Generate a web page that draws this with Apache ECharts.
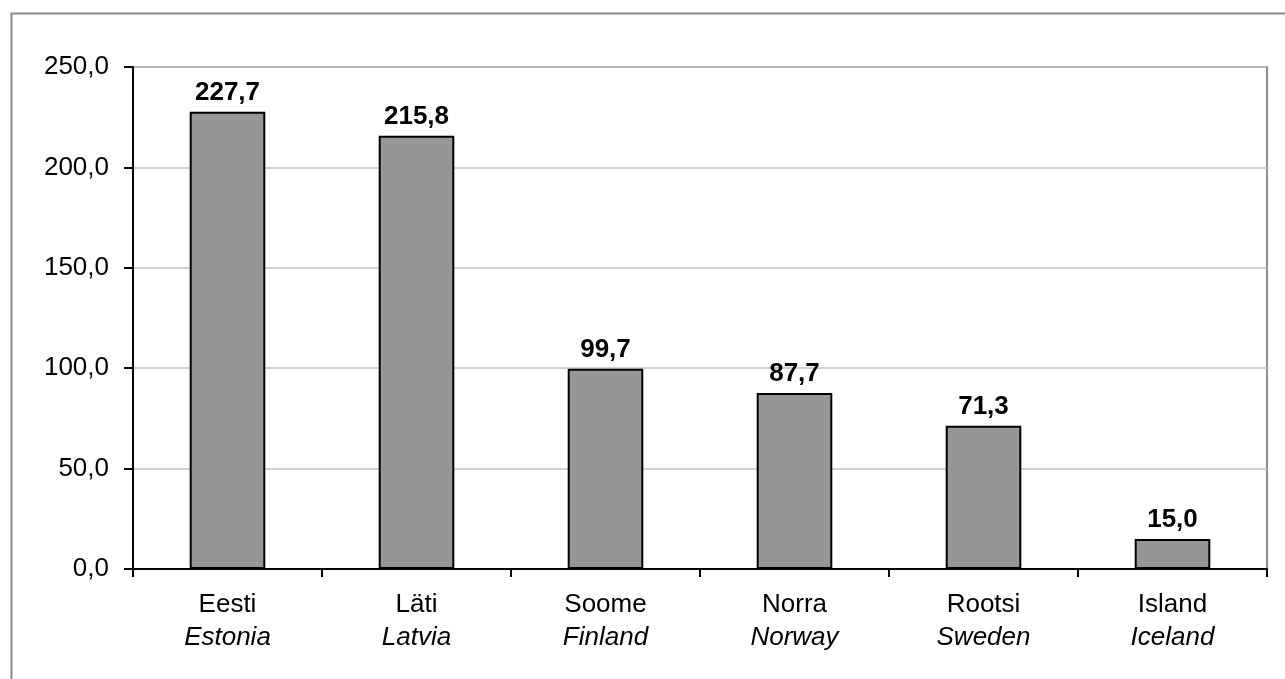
<!DOCTYPE html>
<html>
<head>
<meta charset="utf-8">
<script src="https://cdn.jsdelivr.net/npm/echarts@6/dist/echarts.min.js"></script>
<style>
  html, body { margin: 0; padding: 0; background: #fff; }
  #chart { width: 1285px; height: 679px; }
</style>
</head>
<body>
<div id="chart"></div>
<script>
// Country names: Estonian on the first line, English (italic) on the second
const namesEt = ['Eesti', 'Läti', 'Soome', 'Norra', 'Rootsi', 'Island'];
const namesEn = ['Estonia', 'Latvia', 'Finland', 'Norway', 'Sweden', 'Iceland'];
const values = [227.7, 215.8, 99.7, 87.7, 71.3, 15.0];
const yMin = 0, yMax = 250, yStep = 50;

const FONT = '"Liberation Sans", Arial, Helvetica, sans-serif';
const fmt = v => Number(v).toFixed(1).replace('.', ',');

const chart = echarts.init(document.getElementById('chart'), null, { renderer: 'canvas' });

chart.setOption({
  animation: false,
  backgroundColor: '#ffffff',
  graphic: [{
    type: 'rect',
    left: 9, top: 11,
    shape: { width: 1300, height: 700 },
    style: { fill: 'none', stroke: '#8c8c8c', lineWidth: 2 },
    silent: true, z: -10
  }],
  grid: {
    left: 133, top: 67, right: 18, bottom: 110,
    show: true, borderColor: '#8c8c8c', borderWidth: 2, backgroundColor: 'transparent'
  },
  xAxis: {
    type: 'category',
    data: namesEt.map((n, i) => '{a|' + n + '}\n{b|' + namesEn[i] + '}'),
    axisLine: { lineStyle: { color: '#000', width: 2 } },
    axisTick: { show: true, length: 8, lineStyle: { color: '#000', width: 2 } },
    axisLabel: {
      margin: 19,
      interval: 0,
      rich: {
        a: { fontFamily: FONT, fontSize: 26, color: '#000', lineHeight: 33 },
        b: { fontFamily: FONT, fontSize: 26, fontStyle: 'italic', color: '#000', lineHeight: 33 }
      }
    }
  },
  yAxis: {
    type: 'value',
    min: yMin, max: yMax, interval: yStep,
    axisLine: { show: true, lineStyle: { color: '#000', width: 2 } },
    axisTick: { show: true, length: 9, lineStyle: { color: '#000', width: 2 } },
    axisLabel: {
      margin: 24,
      fontFamily: FONT, fontSize: 26, color: '#000',
      formatter: fmt
    },
    splitLine: { lineStyle: { color: '#c0c0c0', width: 1.5 } }
  },
  series: [{
    type: 'bar',
    data: values,
    barWidth: '40%',
    itemStyle: { color: '#969696', borderColor: '#000', borderWidth: 2 },
    label: {
      show: true,
      position: 'top',
      distance: 6,
      fontFamily: FONT, fontSize: 26, fontWeight: 'bold', color: '#000',
      formatter: p => fmt(p.value)
    }
  }]
});
</script>
</body>
</html>
